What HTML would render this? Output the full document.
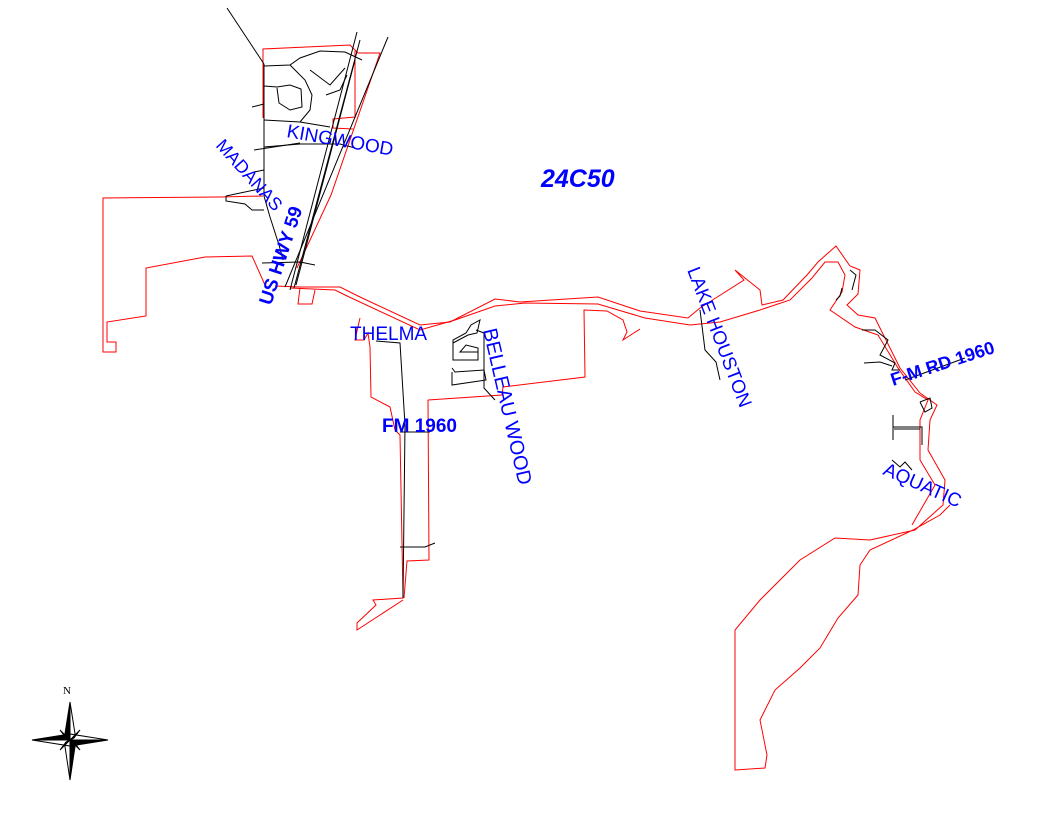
<!DOCTYPE html>
<html><head><meta charset="utf-8"><style>
html,body{margin:0;padding:0;background:#fff;}
svg{display:block}
text{font-family:"Liberation Sans",sans-serif;fill:#0000ff}
</style></head><body>
<svg width="1056" height="816" viewBox="0 0 1056 816" xmlns="http://www.w3.org/2000/svg">
<g fill="none" stroke="#ff0000" stroke-width="1">
<polyline points="263,196 220,197 103,198 103,352 116,352 116,342 107,342 107,322 146,316 146,268 205,257 252,256 265,285"/>
<polyline points="263,118 263,49 350,45 358,53 380,53 331,195 297,268"/>
<polyline points="355,51 355,117 333,119 333,128 353,129"/>
<polyline points="275,286 300,287 340,287 360,297 420,325 450,322 495,299 520,302 598,297 640,311 688,318 700,308 744,280 735,270 760,290 762,305 783,300 807,275 818,262 836,246 850,266 860,270 858,294 847,305 858,315 875,318 900,368 920,393 937,405 930,420 928,450 945,480 943,505 915,530 870,540 835,538 800,560 760,600 735,630 735,770 765,768 767,755 760,720 775,690 800,668 820,648 838,618 858,595 860,565 870,550 913,530 940,515 950,505"/>
<polyline points="290,288 335,290 345,295 420,330 455,320 495,306 525,303 598,304 645,318 690,325 720,322 760,310 790,300 812,278 825,262 838,262 845,275 842,292 830,310 855,327 878,335 898,368 915,392 928,400 920,420 920,460 935,485 912,525"/>
<polyline points="300,288 298,304 312,304 315,290"/>
<polyline points="360,318 355,340 364,340 368,333 370,347 371,397 390,407 395,430 400,435 403,598 373,600 376,605 357,623 357,630 403,600"/>
<polyline points="428,400 429,560 407,561 404,598"/>
<polyline points="428,400 502,395 503,387 585,377 584,310 607,311 623,320 627,332 623,340 640,329"/>
</g>
<g fill="none" stroke="#000" stroke-width="1">
<line x1="227" y1="8" x2="264" y2="64"/>
<line x1="388" y1="37" x2="285" y2="287"/>
<line x1="357" y1="32" x2="290" y2="290"/>
<line x1="360" y1="40" x2="294" y2="288"/>
<line x1="355" y1="60" x2="296" y2="285"/>
<polyline points="264,64 264,196 270,217 279,245 283,260"/>
<polyline points="264,66 290,65 300,58 320,51 345,52 362,60"/>
<polyline points="290,65 305,80 312,95 310,110 300,122"/>
<polyline points="264,86 277,87 290,85 301,89 302,107 290,110 279,103 277,88"/>
<polyline points="264,104 252,107"/>
<polyline points="264,120 300,122 330,127"/>
<polyline points="264,147 300,144 340,144 355,148"/>
<polyline points="254,150 300,143"/>
<polyline points="264,170 254,172"/>
<polyline points="226,196 264,188"/>
<polyline points="226,196 226,201 245,204 252,210 264,210"/>
<polyline points="262,263 300,262 315,265"/>
<polyline points="310,70 330,85 345,68"/>
<polyline points="326,95 340,90 347,75"/>
<polyline points="453,343 468,335 477,333 480,320 471,325 466,333 453,340 453,360 478,360 478,348 466,345 460,352 478,352"/>
<polyline points="452,372 452,385 486,380 484,370 455,372 452,368"/>
<polyline points="476,330 484,333 484,388 495,400"/>
<polyline points="376,341 400,343 405,425 403,598"/>
<polyline points="400,432 430,432"/>
<polyline points="400,547 425,547 435,543"/>
<polyline points="700,310 705,350 716,362 720,380"/>
<polyline points="850,270 856,275 852,290"/>
<polyline points="836,300 840,296 842,288"/>
<polyline points="862,330 875,330 888,340 880,355 895,363 892,370 900,370"/>
<polyline points="864,363 880,362 892,366"/>
<polyline points="905,380 965,358"/>
<polyline points="920,402 930,398 932,408 925,412 920,402"/>
<polyline points="893,415 893,440"/>
<polyline points="893,427 922,427 922,445"/>
<polyline points="894,429 920,429"/>
<polyline points="892,460 900,467 905,462 912,470"/>
</g>
<text x="541" y="187" font-size="25" font-weight="bold" font-style="italic">24C50</text>
<text transform="translate(286,137) rotate(10)" font-size="19">KINGWOOD</text>
<text transform="translate(215,146) rotate(48)" font-size="18">MADANAS</text>
<text transform="translate(271,306) rotate(-72)" font-size="19" font-weight="bold">US HWY 59</text>
<text x="350" y="340" font-size="19">THELMA</text>
<text x="382" y="432" font-size="19" font-weight="bold">FM 1960</text>
<text transform="translate(483,330) rotate(77)" font-size="20">BELLEAU WOOD</text>
<text transform="translate(687,270) rotate(69)" font-size="19">LAKE HOUSTON</text>
<text transform="translate(893,386) rotate(-18)" font-size="18" font-weight="bold">F-M RD 1960</text>
<text transform="translate(882,474) rotate(24)" font-size="19">AQUATIC</text>
<text x="63" y="694" font-size="11" style="font-family:'Liberation Serif',serif;fill:#000">N</text>
<g stroke="#000" stroke-width="1">
<polygon points="70,702 76,740 70,740" fill="#fff"/>
<polygon points="70,702 64,740 70,740" fill="#000"/>
<polygon points="70,780 64,740 70,740" fill="#fff"/>
<polygon points="70,780 76,740 70,740" fill="#000"/>
<polygon points="32,740 70,734 70,740" fill="#000"/>
<polygon points="32,740 70,746 70,740" fill="#fff"/>
<polygon points="108,740 70,746 70,740" fill="#000"/>
<polygon points="108,740 70,734 70,740" fill="#fff"/>
<polygon points="70,740 60,730 66,738" fill="#000"/>
<polygon points="70,740 80,730 74,738" fill="#000"/>
<polygon points="70,740 60,750 66,742" fill="#000"/>
<polygon points="70,740 80,750 74,742" fill="#000"/>
</g>
</svg>
</body></html>
